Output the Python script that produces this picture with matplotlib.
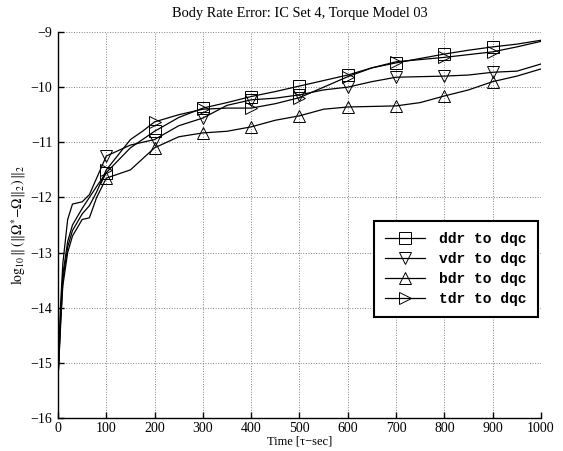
import numpy as np
import matplotlib
matplotlib.use('Agg')
import matplotlib.pyplot as plt

plt.rcParams['font.family'] = 'Liberation Serif'
plt.rcParams['mathtext.fontset'] = 'stix'

# time samples (tau-sec)
t = [0, 5, 10, 20, 30, 50, 65, 80, 100, 150, 175, 200, 250, 300, 350, 400, 450,
     500, 550, 600, 650, 700, 750, 800, 850, 900, 950, 1000]

ddr = [-15.3, -14.2, -13.4, -12.8, -12.5, -12.2, -12.0, -11.8, -11.55, -11.1, -10.95,
       -10.8, -10.55, -10.38, -10.28, -10.17, -10.08, -9.98, -9.88, -9.78, -9.65,
       -9.56, -9.48, -9.40, -9.33, -9.27, -9.22, -9.15]
vdr = [-15.3, -14.0, -13.2, -12.4, -12.12, -12.08, -11.95, -11.65, -11.25, -11.05, -11.0,
       -10.95, -10.7, -10.56, -10.33, -10.23, -10.2, -10.14, -10.05, -10.0, -9.9,
       -9.82, -9.81, -9.80, -9.78, -9.73, -9.71, -9.58]
bdr = [-15.3, -14.3, -13.6, -13.0, -12.7, -12.4, -12.37, -12.0, -11.65, -11.5, -11.3,
       -11.1, -10.9, -10.83, -10.8, -10.72, -10.6, -10.52, -10.4, -10.36, -10.35,
       -10.34, -10.28, -10.16, -10.05, -9.9, -9.8, -9.67]
tdr = [-15.3, -14.4, -13.5, -12.9, -12.6, -12.3, -12.15, -11.9, -11.5, -10.95, -10.8,
       -10.63, -10.5, -10.4, -10.38, -10.38, -10.3, -10.19, -10.0, -9.81, -9.65,
       -9.54, -9.5, -9.46, -9.41, -9.36, -9.27, -9.17]

marker_t = [100, 200, 300, 400, 500, 600, 700, 800, 900]
labels = ['ddr to dqc', 'vdr to dqc', 'bdr to dqc', 'tdr to dqc']
markers = ['s', 'v', '^', '>']


def main():
    fig = plt.figure(figsize=(5.63, 4.51), dpi=100)
    ax = fig.add_axes([58 / 563, 1 - 418 / 451, 483 / 563, 386 / 451])

    idx = [t.index(m) for m in marker_t]
    for y, lab, mk in zip([ddr, vdr, bdr, tdr], labels, markers):
        ax.plot(t, y, color='black', linewidth=0.9, marker=mk, markevery=idx,
                markersize=8, markerfacecolor='none', markeredgecolor='black',
                markeredgewidth=0.7, label=lab)

    ax.set_xlim(0, 1000)
    ax.set_ylim(-16, -9)
    ax.set_xticks(range(0, 1001, 100))
    ax.set_yticks(range(-16, -8))
    ax.set_yticklabels(['\u221216', '\u221215', '\u221214', '\u221213', '\u221212',
                        '\u221211', '\u221210', '\u22129'])
    ax.tick_params(direction='in', labelsize=10, length=4, width=1)
    ax.tick_params(axis='x', pad=3)
    ax.tick_params(axis='y', pad=4)
    ax.grid(True, linestyle=':', color='gray', linewidth=0.7)
    for s in ['top', 'right']:
        ax.spines[s].set_visible(False)
    for s in ['left', 'bottom']:
        ax.spines[s].set_linewidth(1.0)

    ax.set_title('Body Rate Error: IC Set 4, Torque Model 03', fontsize=10.4, pad=11)
    ax.set_xlabel('Time [\u03c4\u2212sec]', fontsize=9, labelpad=0)
    ax.set_ylabel(r'$\log_{10}\|\,(\|\Omega^{*}\!-\!\Omega\|_2)\,\|_2$', fontsize=10, labelpad=2)

    leg = ax.legend(loc='lower right', bbox_to_anchor=(0.993, 0.262),
                    prop={'family': 'Liberation Mono', 'weight': 'bold', 'size': 10.5},
                    fancybox=False, edgecolor='black', framealpha=1,
                    handlelength=2.7, handletextpad=1.0, labelspacing=0.4,
                    borderpad=0.75, borderaxespad=0)
    leg.get_frame().set_linewidth(1.5)

    fig.savefig('out.png', dpi=100)


if __name__ == '__main__':
    main()
